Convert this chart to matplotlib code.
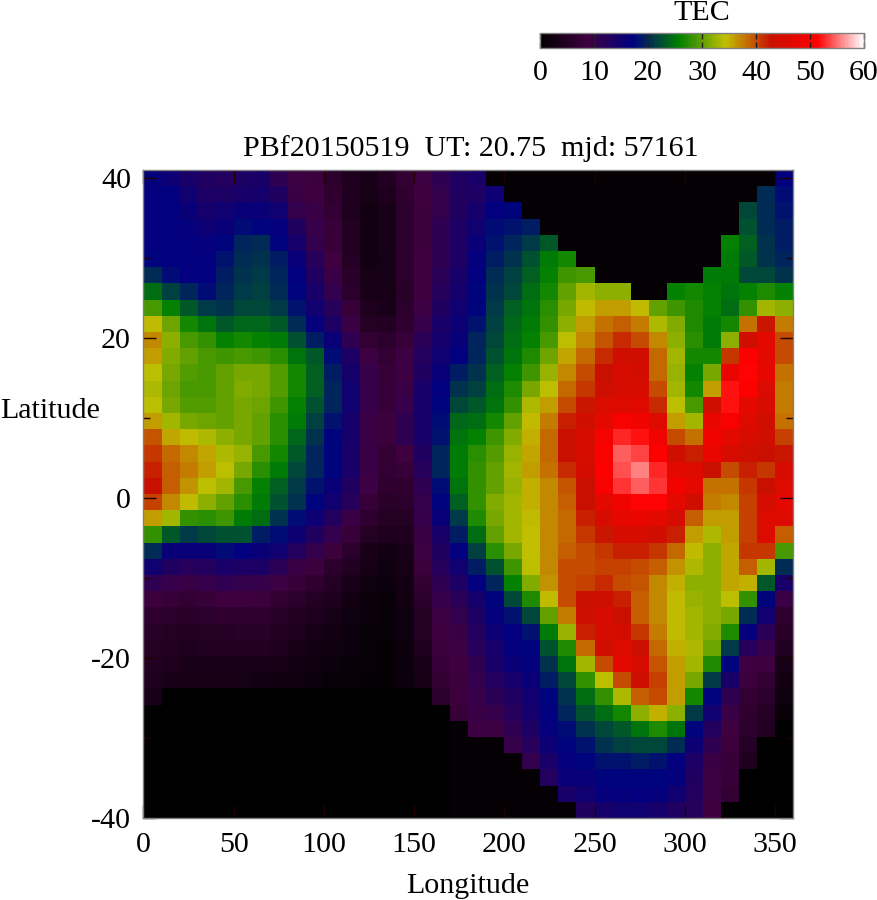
import numpy as np
import matplotlib
matplotlib.use("Agg")
import matplotlib.pyplot as plt
from matplotlib.colors import LinearSegmentedColormap, Normalize
from matplotlib.cm import ScalarMappable

plt.rcParams['font.family'] = ['Liberation Serif', 'DejaVu Serif']
plt.rcParams['axes.unicode_minus'] = False

lon_edges = list(range(0, 370, 10))
lat_edges = np.linspace(41, -40, 41)

# TEC per 10-degree longitude column, from the top of the map (lat 41) down to lat -40, in 40 rows
lon000 = [16.5,17,17,17,17,17.5,20,24.5,29,34.5,37,36,34,33.5,34,36,39.5,41,42,43,40.5,36,28,20,15,11,8,6.5,5.5,5,4.5,4,3.5,.2,.2,.2,.2,.2,.2,.2]
lon010 = [15.5,17,17,17,17,17,18,21.5,26,30.5,32,31.5,31,30.5,31,33,35.5,38.5,39,39,37,33,23,16,13,10,7.5,6,5,4.5,4,3.5,.2,.2,.2,.2,.2,.2,.2,.2]
lon020 = [14,15,16,16.5,17,17,17,19.5,23,26.5,29,30,29.5,29,29.5,31,34.5,37,37.5,36.5,34.5,28,21,16,12,9.5,7,5.5,4.5,4,3.5,3,.2,.2,.2,.2,.2,.2,.2,.2]
lon030 = [13,13.5,14.5,15.5,16.5,17,17,18,21,25,28,29,29,29,29.5,30.5,33.5,35.5,36,34,32,27.5,22,16,12.5,10,7.5,6,5,4.5,3.5,3,.2,.2,.2,.2,.2,.2,.2,.2]
lon040 = [12.5,13.5,15,16,17.5,18.5,19,19.5,20.5,23,26,28.5,30,30,30,30,32,33.5,34,33,30,28.5,22.5,18,14,11,8.5,6.5,5,4.5,3.5,3,.2,.2,.2,.2,.2,.2,.2,.2]
lon050 = [13.5,14,16,18,19.5,20,20.5,21,22,24,26.5,29,31,31.5,31,31,31,32.5,31,29,27.5,25.5,22.5,17,13.5,10.5,8.5,6.5,5.5,4.5,3.5,3,.2,.2,.2,.2,.2,.2,.2,.2]
lon060 = [14,14.5,16,17.5,20,20.5,21,21.5,22,24,26,28.5,31,31,30.5,30,30,29,27.5,26,25.5,24.5,19,16,13.5,10,8,6.5,5.5,4.5,3.5,2.5,.2,.2,.2,.2,.2,.2,.2,.2]
lon070 = [11,13,15,16.5,17.5,19,19.5,20,21,23,25.5,27.5,29.5,29.5,28.5,27.5,27.5,26.5,25.5,23.5,22.5,20.5,18,15,11.5,9,7,5.5,4.5,4,3,2,.2,.2,.2,.2,.2,.2,.2,.2]
lon080 = [9,9.5,10.5,13,14.5,16,17,17.5,18.5,20,22.5,25,26.5,26.5,26,25.5,24,23,22,21,20.5,18,15.5,12.5,9.5,7.5,6,4.5,4,3,2.5,2,.2,.2,.2,.2,.2,.2,.2,.2]
lon090 = [8,8.5,9.5,10,10.5,12,13,14,15,16.5,19,23,23.5,23.5,22.5,21.5,20.5,19.5,19.5,18.5,17.5,15.5,13,10.5,8,6.5,5,4,3,2.5,2,1.5,.2,.2,.2,.2,.2,.2,.2,.2]
lon100 = [6,6.5,7,7.5,7.5,8.5,9.5,10.5,12,13.5,16,18,19,19.5,19.5,18.5,17.5,17.5,17.5,16,15,12.5,10.5,8,6,5,4,3,2.5,2,1.5,1,.2,.2,.2,.2,.2,.2,.2,.2]
lon110 = [4,4,4,4.5,4.5,5,5.5,6,7.5,9.5,11,13.5,14.5,15,15,14.5,14.5,14,14,13,12,9.5,7.5,6,4.5,3.5,2.5,2,1.5,1.5,1,1,.2,.2,.2,.2,.2,.2,.2,.2]
lon120 = [3.5,3,2.5,2.5,2.5,2.5,3,3.5,4,5,7,9,10,10,10,9.5,9.5,9.5,9.5,9,7.5,6.5,5,3.5,3,2,1.5,1.5,1,1,1,.5,.2,.2,.2,.2,.2,.2,.2,.2]
lon130 = [4.5,4,3.5,3.5,3.5,3,3,3,3.5,4.5,6,7,7.5,7.5,7.5,8,8,7,7,6.5,5.5,5,4,2.5,2,1.5,1,1,1,.5,.5,.5,.2,.2,.2,.2,.2,.2,.2,.2]
lon140 = [7,6.5,6,6,6,6,6,5.5,6,6.5,7.5,9,9,9.5,10,11,11,8.5,7.5,6.5,6,5,4,3.5,3,2.5,2.5,2,2,1.5,1.5,1.5,.2,.2,.2,.2,.2,.2,.2,.2]
lon150 = [9,8.5,8,8,8,8.5,8.5,8.5,9,10,11.5,12.5,13,14,14,14,14,13,12,11,10.5,10,9.5,9,8,7,6,5,5,4,3.5,3,.2,.2,.2,.2,.2,.2,.2,.2]
lon160 = [11,10.5,10.5,11,11,11,11.5,12,13,14,14.5,15,16,17,17.5,18,18.5,19.5,19.5,18,17.5,16,14,13,12,11,10,9,8.5,8,7.5,7,6,.2,.2,.2,.2,.2,.2,.2]
lon170 = [13,13,13,13.5,13.5,13.5,14,14.5,15,15.5,16,17,19,20.5,22,24,25,25.5,25.5,25,23.5,21,19,17,15,13.5,11.5,10.5,9.5,9,8.5,8,8,7.5,.5,.5,.5,.5,.5,.5]
lon180 = [14,13.5,14.5,15,16,16.5,17,17.5,17.5,18.5,19.5,19.5,20.5,21.5,23,24.5,26,27.5,28,28,28,27,24.5,21.5,19,17,14.5,13.5,12.5,12,11,10.5,10,9.5,9,.6,.6,.6,.6,.6]
lon190 = [.7,15.5,17,18,18.5,19,20,20.5,21,21.5,22,22.5,23.5,24.5,25,26.5,28.5,29.5,30,30,31.5,31,30,27.5,22.5,19.5,17.5,16.5,15.5,14.5,14,12.5,11.5,10,9,.7,.7,.7,.7,.7]
lon200 = [.7,.7,17.5,18.5,19.5,20.5,21.5,22,23.5,24,24.5,25,26,27,28,30,31.5,32.5,33,32.5,33,33,33,31,28.5,26,22,18.5,17,16.5,16,14.5,13,12,11,10,.7,.7,.7,.7]
lon210 = [.7,.7,.7,19,21,22.5,23.5,24.5,25,25.5,26,27,28.5,31,33.5,34.5,35,35.5,36,35,35,34.5,34.3,34.3,34,31.5,27,22,18.5,17.5,16.5,16,15,14.5,13.5,12,10.5,.7,.7,.7]
lon220 = [.7,.7,.7,.7,23,25.5,26,26.5,27.5,28,29,30.5,32.5,34,36,37.5,38.5,38.5,38,37,37,37,37,37,37,36.5,34.5,30,25.5,22.5,20.5,19,17.5,17,16.5,15.5,14,12.5,.8,.8]
lon230 = [.7,.7,.7,.7,.7,26.5,28.5,30,31,32,34,35.5,37,38.5,40,42,43,43,41.5,39.5,39,38.5,38.5,39,40,40,40,37.5,32.5,27,25,22,20.5,19.5,18,17.5,16.5,16,14,.8]
lon240 = [.7,.7,.7,.7,.7,.7,29,33,34.5,36,37,38.5,40,41,42.5,44,45,45,44.5,43,43,42,41,40,40,40.5,43,43.5,42,38.5,33,28,24.5,22.5,20.5,18.5,17.5,16,15,13]
lon250 = [.7,.7,.7,.7,.7,.7,.7,32,36,38,39.5,41.5,43,43.5,45.5,47,49.5,50.5,51,50,47,45,42.5,41,40.5,41.5,43.5,45,45,44,40,34,28,24.5,22,20.5,18.5,17.5,16.5,14.5]
lon260 = [.7,.7,.7,.7,.7,.7,.7,32,36,39,41.5,44,45,45,46,50,52.5,54.5,54,53,49,47.5,45,42,40.5,40,42,43,44.5,46,47,40,33.5,26.5,23,21.5,18.5,17.5,16.5,15]
lon270 = [.7,.7,.7,.7,.7,.7,.7,.7,34.5,37.5,40,44,44.5,45,46.5,49,52,53.5,55.7,54.5,51.5,48,45,42,40,39.5,39,39,41,43.5,45,43.5,39,32,25,22,19,17.5,17,15]
lon280 = [.7,.7,.7,.7,.7,.7,.7,.7,30,33.5,37,38.5,38.5,40,41.5,46,49,51,52.5,53,51.5,47,44,41,39,37,37,37,37.5,38.5,39.5,40.5,40,35,27,22,18.5,17.5,16.5,14.5]
lon290 = [.7,.7,.7,.7,.7,.7,.7,26,28.5,31.5,32,33,32.5,33,34,36,40,44,47,49,47,45,42,38.5,36.5,35,34.5,34.5,34.5,35,36,36,36,32,25,20,17,16.5,15,13]
lon300 = [.7,.7,.7,.7,.7,.7,.7,26.5,27,27,27.5,26.5,26,26.5,29,33,38,42,46,47,44,39,36,34.5,33.5,32,32.5,33,33,33.5,33,31,26.5,21,17.5,15.5,13.5,13,12.5,12]
lon310 = [.7,.7,.7,.7,.7,.7,25.5,26,26,25.5,25.5,26.5,31,36,44,48,49,48,43,38,37.5,36,33.5,32,32,32,32,32,31.5,30.5,27,21,17.5,15,12.5,11,9.5,9,9,8.5]
lon320 = [.7,.7,.7,.7,26,25.5,25.5,25,24.5,26.5,32,41,48,52,52,50,47,45,40,38,37,36,36,35.5,35.5,35.5,34,31,27,21,17.5,14,11,9.5,8.5,8,7.5,7.5,7,.2]
lon330 = [.7,.7,22,22.5,23.5,23,22,26,28,38,44,51,51.5,51,47,46,45,44,42,41,40.5,40.5,40.5,41,39,35,28,20,16.5,12,9,8,7,6.5,6,5,4,.2,.2,.2]
lon340 = [.7,20,20,20,20.5,20.5,22,27,33,42.5,47,47,47.5,45.5,45,44,44,43,41,43,45,46,46,41,33,23,17.5,15,11.5,10,8.5,7,6,5,4.5,.2,.2,.2,.2,.2]
lon350 = [17,18,18.5,19,19,19.5,20.5,26,32,37.5,40,40,38,37.5,37.5,38,40.5,42.5,45,46,47,46,39,29,20,14,9.5,6.5,5.5,4.5,3,2.5,2,1,.2,.2,.2,.2,.2,.2]

columns = [lon000, lon010, lon020, lon030, lon040, lon050, lon060, lon070, lon080,
           lon090, lon100, lon110, lon120, lon130, lon140, lon150, lon160, lon170,
           lon180, lon190, lon200, lon210, lon220, lon230, lon240, lon250, lon260,
           lon270, lon280, lon290, lon300, lon310, lon320, lon330, lon340, lon350]
tec = np.array(columns).T

palette = ['#000000', '#400040', '#000080', '#008000', '#c0c000', '#c81000', '#ff0000', '#ffffff']
cmap = LinearSegmentedColormap.from_list('tec', palette, N=256)
norm = Normalize(0, 60)

W, H = 878, 900
def box(x0, y0, x1, y1):
    return [x0 / W, 1 - y1 / H, (x1 - x0) / W, (y1 - y0) / H]

fig = plt.figure(figsize=(8.78, 9.0), dpi=100)
ax = fig.add_axes(box(143.5, 170, 793, 818))
ax.pcolormesh(lon_edges, lat_edges, tec, cmap=cmap, norm=norm, shading='flat', linewidth=0, rasterized=True)
ax.set_xlim(0, 360)
ax.set_ylim(-40, 41)
ax.set_xticks(range(0, 360 + 1, 50))
ax.set_yticks(range(-40, 41, 20))
ax.set_yticks(range(-30, 40, 20), minor=True)
FS = 21.6
ax.tick_params(which='major', direction='in', length=9.4, width=1, top=True, right=True, color='#200000', labelsize=FS)
ax.tick_params(axis='x', which='major', pad=10)
ax.tick_params(axis='y', which='major', pad=9)
ax.tick_params(which='minor', direction='in', length=4.7, width=1, left=True, right=True, color='#200000')
for s in ax.spines.values():
    s.set_color('#808080')
    s.set_linewidth(1)
fig.text(470.5 / W, 1 - 149 / H, 'PBf20150519  UT: 20.75  mjd: 57161', ha='center', va='center', fontsize=FS)
fig.text(467.5 / W, 1 - 886 / H, 'Longitude', ha='center', va='center', fontsize=FS)
fig.text(50 / W, 1 - 411 / H, 'Latitude', ha='center', va='center', fontsize=FS)

cax = fig.add_axes(box(540, 33, 864, 47.5))
cb = fig.colorbar(ScalarMappable(norm=norm, cmap=cmap), cax=cax, orientation='horizontal')
cb.set_ticks(range(0, 61, 10))
cb.ax.tick_params(direction='in', length=4, width=1, color='#202020', labelsize=FS, pad=9, top=True)
cb.outline.set_edgecolor('#808080')
cb.outline.set_linewidth(1)
fig.text(702 / W, 1 - 13 / H, 'TEC', ha='center', va='center', fontsize=FS)

fig.savefig('out.png', dpi=100)
